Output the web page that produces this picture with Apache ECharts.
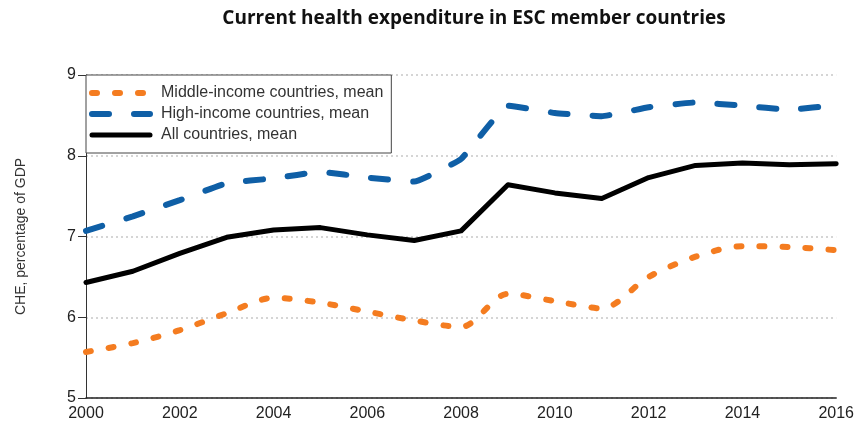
<!DOCTYPE html>
<html>
<head>
<meta charset="utf-8">
<script src="https://cdn.jsdelivr.net/npm/echarts@6/dist/echarts.min.js"></script>
<style>html,body{margin:0;padding:0;background:#fff}#c{width:857px;height:427px}</style>
</head>
<body>
<div id="c"></div>
<script>
const years = ['2000','2001','2002','2003','2004','2005','2006','2007','2008','2009','2010','2011','2012','2013','2014','2015','2016'];
const middleIncome = [5.57,5.68,5.84,6.05,6.24,6.18,6.07,5.96,5.88,6.29,6.20,6.11,6.50,6.75,6.88,6.87,6.83];
const highIncome = [7.07,7.25,7.45,7.66,7.72,7.80,7.73,7.68,7.96,8.62,8.53,8.49,8.60,8.66,8.62,8.57,8.63];
const allCountries = [6.43,6.57,6.79,6.99,7.08,7.11,7.02,6.95,7.07,7.64,7.54,7.47,7.73,7.88,7.91,7.89,7.90];
const xTickLabels = ['2000','2002','2004','2006','2008','2010','2012','2014','2016'];
const seriesNames = ['Middle-income countries, mean','High-income countries, mean','All countries, mean'];

const C_MID = '#f47c20', C_HIGH = '#0f5fa6', C_ALL = '#000';
const lsMid = {color: C_MID, width: 6, type: [5, 18], cap: 'round'};
const lsHigh = {color: C_HIGH, width: 6, type: [17, 25], cap: 'round'};
const lsAll = {color: C_ALL, width: 5, cap: 'round', join: 'round'};
const noSym = {color: 'rgba(0,0,0,0)', borderWidth: 0, opacity: 0};

const chart = echarts.init(document.getElementById('c'));
chart.setOption({
  animation: false,
  title: {
    text: 'Current health expenditure in ESC member countries',
    left: 469, top: 4, textAlign: 'center',
    textStyle: {fontFamily: 'Open Sans', fontWeight: 'bold', fontSize: 19, color: '#111'}
  },
  grid: {left: 86, right: 17, top: 75, bottom: 29, containLabel: false},
  legend: {
    orient: 'vertical', left: 86, top: 75,
    data: [
      {name: seriesNames[0], lineStyle: {color: C_MID, width: 6, type: [5, 18], cap: 'round'}, itemStyle: noSym},
      {name: seriesNames[1], lineStyle: {color: C_HIGH, width: 6, type: [17, 25], cap: 'round'}, itemStyle: noSym},
      {name: seriesNames[2], lineStyle: {color: C_ALL, width: 5, cap: 'round'}, itemStyle: noSym}
    ],
    itemWidth: 58, itemHeight: 14, itemGap: 5,
    padding: [10, 8, 10, 3],
    backgroundColor: '#fff', borderColor: '#444', borderWidth: 1,
    textStyle: {fontFamily: 'Liberation Sans', fontSize: 16, color: '#333', padding: [0,0,0,6]}
  },
  xAxis: {
    type: 'category', data: years, boundaryGap: false,
    axisLine: {lineStyle: {color: '#222', width: 1.5}},
    axisTick: {show: false},
    axisLabel: {
      interval: 1, fontFamily: 'Liberation Sans', fontSize: 16, color: '#222', margin: 8,
      formatter: v => xTickLabels.includes(v) ? v : ''
    },
    splitLine: {show: false}
  },
  yAxis: {
    type: 'value', min: 5, max: 9, interval: 1,
    name: 'CHE, percentage of GDP', nameLocation: 'middle', nameGap: 58, nameRotate: 90,
    nameTextStyle: {fontFamily: 'Liberation Sans', fontSize: 14, color: '#333'},
    axisLine: {show: true, lineStyle: {color: '#333', width: 1}},
    axisTick: {show: true, length: 8, lineStyle: {color: '#333'}},
    axisLabel: {fontFamily: 'Liberation Sans', fontSize: 16, color: '#222', margin: 10},
    splitLine: {show: true, lineStyle: {color: '#c8c8c8', width: 1.5, type: [2, 3]}}
  },
  series: [
    {
      name: seriesNames[0], type: 'line', data: middleIncome, smooth: 0.3,
      symbol: 'none', showSymbol: false, lineStyle: lsMid, itemStyle: {color: C_MID}
    },
    {
      name: seriesNames[1], type: 'line', data: highIncome, smooth: 0.1,
      symbol: 'none', showSymbol: false, lineStyle: lsHigh, itemStyle: {color: C_HIGH}
    },
    {
      name: seriesNames[2], type: 'line', data: allCountries, smooth: false,
      symbol: 'none', showSymbol: false, lineStyle: lsAll, itemStyle: {color: C_ALL}
    }
  ]
});
</script>
</body>
</html>
